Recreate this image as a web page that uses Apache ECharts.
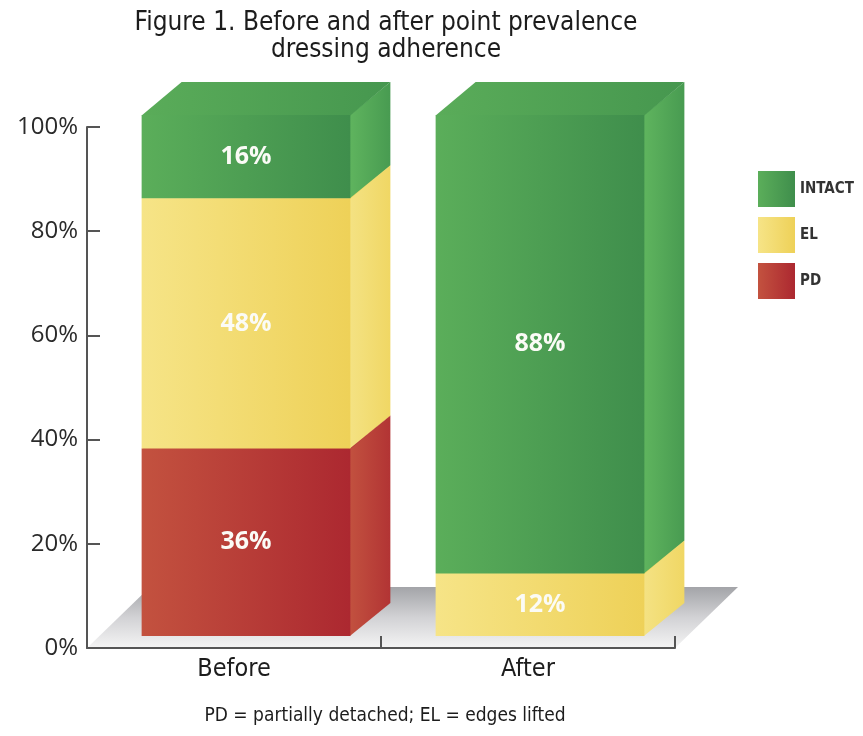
<!DOCTYPE html>
<html>
<head>
<meta charset="utf-8">
<script src="https://cdn.jsdelivr.net/npm/echarts@6/dist/echarts.min.js"></script>
<style>
  html, body { margin: 0; padding: 0; background: #ffffff; }
  #chart { width: 863px; height: 736px; }
</style>
</head>
<body>
<div id="chart"></div>
<script>
// ---- data ----
const categories = ['Before', 'After'];
const pdValues = [36, 0];
const elValues = [48, 12];
const intactValues = [16, 88];
const yTickValues = [0, 20, 40, 60, 80, 100];
const legendNames = ['INTACT', 'EL', 'PD'];

// ---- 3D look ----
const BAR_RATIO = 0.71;                // front face width as share of the category band
const FRONT_DX = 12, FRONT_DY = -12;   // front plane pushed back from the axis plane
const DEPTH_DX = 40, DEPTH_DY = -33;   // bar depth
const FLOOR_DX = 63, FLOOR_DY = -61;   // floor depth

const NARROW = '"Liberation Sans Narrow", "DejaVu Sans Condensed", "Open Sans", sans-serif';

function hGrad(a, b) {
  return new echarts.graphic.LinearGradient(0, 0, 1, 0, [
    { offset: 0, color: a }, { offset: 1, color: b }
  ]);
}

const palettes = {
  PD:     { front: ['#c3523f', '#ac2830'], side: ['#c2513f', '#b23434'], top: ['#c4543f', '#b03033'] },
  EL:     { front: ['#f6e487', '#eed158'], side: ['#f4e283', '#f0d764'], top: ['#f6e585', '#efd55e'] },
  INTACT: { front: ['#5bae5a', '#3f8e4c'], side: ['#5fb45e', '#489b51'], top: ['#5aac59', '#46974f'] }
};

// stacked segments: [categoryIndex, lower, upper]
function segments(values, below) {
  return values.map(function (v, i) {
    const lo = below.reduce(function (s, arr) { return s + arr[i]; }, 0);
    return [i, lo, lo + v];
  });
}

function boxRenderer(pal) {
  return function (params, api) {
    const cat = api.value(0), lo = api.value(1), hi = api.value(2);
    if (!(hi > lo)) return null;
    const band = api.size([1, 0])[0];
    const w = band * BAR_RATIO;
    const base = api.coord([cat, lo]);
    const top = api.coord([cat, hi]);
    const x0 = base[0] - w / 2 + FRONT_DX;
    const x1 = x0 + w;
    const yb = base[1] + FRONT_DY;
    const yt = top[1] + FRONT_DY;
    const dx = DEPTH_DX, dy = DEPTH_DY;
    return {
      type: 'group',
      children: [
        {
          type: 'polygon',
          shape: { points: [[x1 - 0.5, yb], [x1 + dx, yb + dy], [x1 + dx, yt + dy], [x1 - 0.5, yt]] },
          style: { fill: hGrad(pal.side[0], pal.side[1]) }
        },
        {
          type: 'polygon',
          shape: { points: [[x0, yt + 0.5], [x0 + dx, yt + dy], [x1 + dx, yt + dy], [x1, yt + 0.5]] },
          style: { fill: hGrad(pal.top[0], pal.top[1]) }
        },
        {
          type: 'rect',
          shape: { x: x0, y: yt, width: w, height: yb - yt },
          style: { fill: hGrad(pal.front[0], pal.front[1]) }
        },
        {
          type: 'text',
          style: {
            text: (hi - lo) + '%',
            x: (x0 + x1) / 2,
            y: (yb + yt) / 2,
            align: 'center',
            verticalAlign: 'middle',
            fill: '#fbfbf6',
            font: 'bold 25px "Open Sans", sans-serif'
          }
        }
      ]
    };
  };
}

function floorRenderer(params, api) {
  const cs = params.coordSys;
  const yb = cs.y + cs.height;
  return {
    type: 'polygon',
    shape: {
      points: [[cs.x, yb], [cs.x + cs.width, yb],
               [cs.x + cs.width + FLOOR_DX, yb + FLOOR_DY], [cs.x + FLOOR_DX, yb + FLOOR_DY]]
    },
    style: {
      fill: new echarts.graphic.LinearGradient(0, 0, 0, 1, [
        { offset: 0, color: '#a3a4a8' }, { offset: 0.5, color: '#d2d2d5' }, { offset: 1, color: '#f4f4f4' }
      ])
    }
  };
}

function boxSeries(name, values, below) {
  const pal = palettes[name];
  return {
    type: 'custom',
    name: name,
    z: 2,
    itemStyle: { color: hGrad(pal.front[0], pal.front[1]) },
    renderItem: boxRenderer(pal),
    encode: { x: 0, y: [1, 2] },
    data: segments(values, below)
  };
}

const chart = echarts.init(document.getElementById('chart'));
chart.setOption({
  animation: false,
  backgroundColor: '#ffffff',
  title: {
    text: 'Figure 1. Before and after point prevalence\ndressing adherence',
    left: 381,
    top: 5,
    textAlign: 'center',
    textStyle: { fontFamily: NARROW, fontSize: 26, lineHeight: 27, fontWeight: 'normal', color: '#1c1c1c' }
  },
  legend: {
    data: legendNames,
    orient: 'vertical',
    left: 753,
    top: 166,
    itemWidth: 37,
    itemHeight: 36,
    itemGap: 10,
    selectedMode: false,
    icon: 'rect',
    textStyle: { fontFamily: NARROW, fontSize: 15, fontWeight: 'bold', color: '#333333' }
  },
  grid: { left: 87, right: 188, top: 127, bottom: 88 },
  xAxis: {
    type: 'category',
    data: categories,
    z: 5,
    axisLine: { lineStyle: { color: '#555555', width: 2 } },
    axisTick: { show: true, inside: true, length: 12, lineStyle: { color: '#555555', width: 2 } },
    axisLabel: { fontFamily: NARROW, fontSize: 25, color: '#1c1c1c', margin: 9 }
  },
  yAxis: {
    type: 'value',
    min: 0,
    max: 100,
    interval: 20,
    z: 5,
    axisLine: { show: true, lineStyle: { color: '#555555', width: 2 } },
    axisTick: { show: true, inside: true, length: 13, lineStyle: { color: '#555555', width: 2 } },
    splitLine: { show: false },
    axisLabel: {
      fontFamily: '"Open Sans", sans-serif',
      fontSize: 24,
      color: '#2a2a2a',
      margin: 9,
      formatter: function (v) { return yTickValues.indexOf(v) >= 0 ? v + '%' : ''; }
    }
  },
  graphic: [{
    type: 'text',
    x: 385,
    y: 716,
    style: {
      text: 'PD = partially detached; EL = edges lifted',
      fontFamily: NARROW,
      fontSize: 19,
      fill: '#1c1c1c',
      align: 'center',
      verticalAlign: 'middle'
    }
  }],
  series: [
    {
      type: 'custom',
      name: 'floor',
      z: 1,
      silent: true,
      renderItem: floorRenderer,
      data: [[0, 0]]
    },
    boxSeries('PD', pdValues, []),
    boxSeries('EL', elValues, [pdValues]),
    boxSeries('INTACT', intactValues, [pdValues, elValues])
  ]
});
</script>
</body>
</html>
